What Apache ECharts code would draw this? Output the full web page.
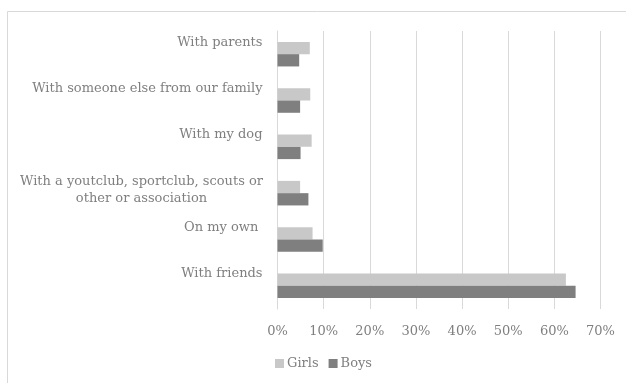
<!DOCTYPE html>
<html>
<head>
<meta charset="utf-8">
<script src="https://cdn.jsdelivr.net/npm/echarts@6/dist/echarts.min.js"></script>
<style>
  html, body { margin: 0; padding: 0; background: #fff; }
  #chart { width: 626px; height: 383px; }
</style>
</head>
<body>
<div id="chart"></div>
<script>
// Who the children spend their free time with (share of answers)
const categories = [
  'With parents',
  'With someone else from our family',
  'With my dog',
  'With a youtclub, sportclub, scouts or\nother or association',
  'On my own ',
  'With friends'
];
const girls = [0.070, 0.071, 0.074, 0.049, 0.076, 0.625];
const boys  = [0.047, 0.049, 0.050, 0.067, 0.098, 0.646];
const tickLabels = ['0%', '10%', '20%', '30%', '40%', '50%', '60%', '70%'];

const FONT = 'DejaVu Serif';
const TEXT = '#7f7f7f';

// Category labels sit above the middle of their band; the two-line one is centred line by line
const categoryItems = categories.map(c => c.indexOf('\n') >= 0
  ? { value: c, textStyle: { padding: [0, 0, 6, 0] } }
  : { value: c, textStyle: { padding: [0, 0, 24, 0] } });

const chart = echarts.init(document.getElementById('chart'), null, { renderer: 'canvas' });
chart.setOption({
  animation: false,
  backgroundColor: '#fff',
  graphic: [{
    type: 'rect',
    shape: { x: 7.5, y: 11.5, width: 640, height: 400 },
    style: { fill: 'none', stroke: '#d9d9d9', lineWidth: 1 },
    silent: true
  }],
  grid: { left: 277.5, right: 25.5, top: 31, bottom: 74, containLabel: false },
  legend: {
    left: 270, top: 352,
    itemWidth: 9, itemHeight: 9, itemGap: 10,
    icon: 'rect',
    textStyle: { fontFamily: FONT, fontSize: 13, color: TEXT, padding: [0, 0, 0, -2] },
    data: ['Girls', 'Boys']
  },
  xAxis: {
    type: 'value', min: 0, max: 0.7, interval: 0.1,
    axisLine: { show: false }, axisTick: { show: false },
    splitLine: { lineStyle: { color: '#d9d9d9', width: 1 } },
    axisLabel: {
      margin: 16, fontFamily: FONT, fontSize: 13, color: TEXT,
      formatter: v => tickLabels[Math.round(v * 10)]
    }
  },
  yAxis: {
    type: 'category', inverse: true, data: categoryItems,
    axisLine: { show: true, lineStyle: { color: '#d9d9d9' } },
    axisTick: { show: false },
    axisLabel: {
      margin: 15, fontFamily: FONT, fontSize: 13, color: TEXT, lineHeight: 17,
      formatter: v => v.indexOf('\n') >= 0 ? '{c|' + v + '}' : v,
      rich: { c: { width: 242, align: 'center', fontFamily: FONT, fontSize: 13, color: TEXT, lineHeight: 17 } }
    }
  },
  series: [
    { name: 'Girls', type: 'bar', data: girls, barGap: '0%', barCategoryGap: '47%',
      itemStyle: { color: '#c8c8c8' } },
    { name: 'Boys', type: 'bar', data: boys, barGap: '0%', barCategoryGap: '47%',
      itemStyle: { color: '#7f7f7f' } }
  ]
});
</script>
</body>
</html>
